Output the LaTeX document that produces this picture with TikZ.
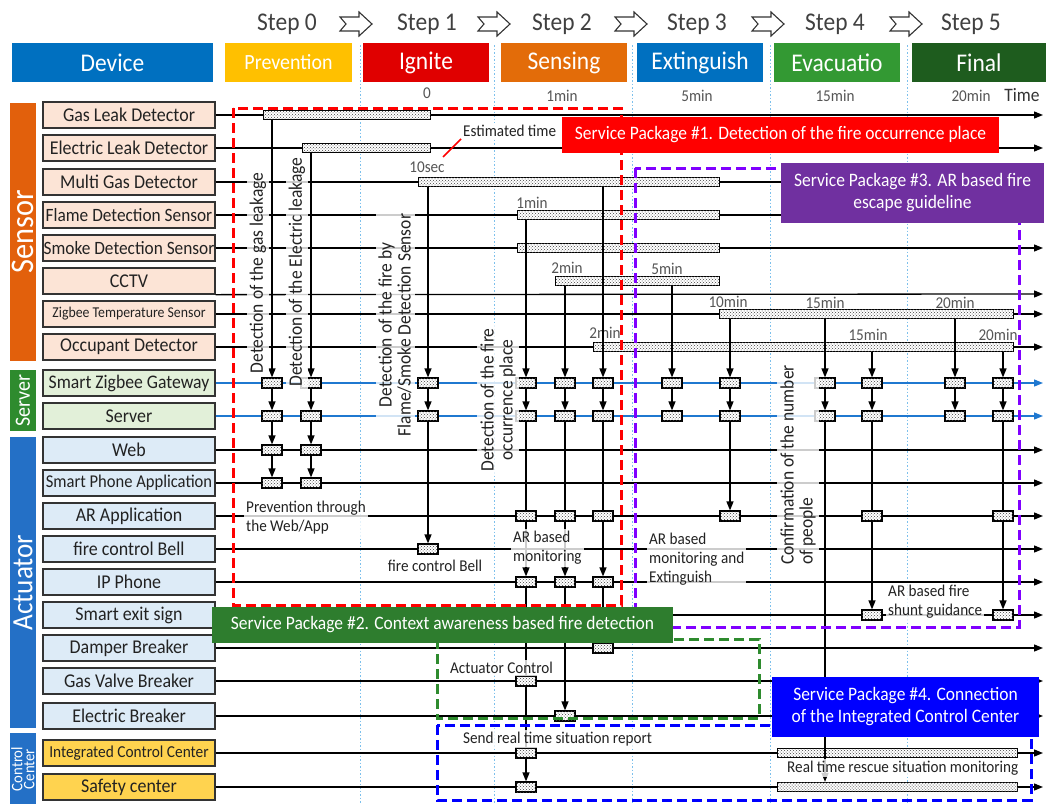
\documentclass[tikz,border=0pt]{standalone}
\usepackage{fontspec}
\setmainfont{Carlito}[FakeStretch=0.92]
\usetikzlibrary{arrows.meta,patterns}
\definecolor{cBlue}{HTML}{0070C0}
\definecolor{cYel}{HTML}{FFC000}
\definecolor{cRed}{HTML}{E00000}
\definecolor{cOra}{HTML}{E36C09}
\definecolor{cGrn}{HTML}{339933}
\definecolor{cDGrn}{HTML}{1E5C1E}
\definecolor{cSensL}{HTML}{FCE4D6}
\definecolor{cSrvL}{HTML}{E2F0D9}
\definecolor{cActL}{HTML}{DDEBF7}
\definecolor{cCtlL}{HTML}{FFD34F}
\definecolor{cLine}{HTML}{1F78D0}
\definecolor{cDot}{HTML}{7CC0EC}
\definecolor{cSP1}{HTML}{FF0000}
\definecolor{cSP2}{HTML}{2E7D2E}
\definecolor{cSP3}{HTML}{7030A0}
\definecolor{cSP4}{HTML}{0000FF}
\definecolor{cViol}{HTML}{8000FF}
\definecolor{cGrnD}{HTML}{2E8B2E}
\definecolor{cTxt}{HTML}{222222}
\definecolor{cTim}{HTML}{555555}
\definecolor{cSideO}{HTML}{E2600C}
\definecolor{cSideG}{HTML}{2E8B2E}
\definecolor{cSideB}{HTML}{2470C6}
\newcommand\fsz[2]{\fontsize{#1}{#2}\selectfont}
\begin{document}
\begin{tikzpicture}[x=1pt,y=-1pt,
  hdr/.style={text=white, minimum height=39pt, inner sep=0pt, font=\fsz{25.5}{28}},
  stp/.style={text=black!75, font=\fsz{25.5}{28}},
  stpar/.style={draw=black!80, line width=1.1pt, fill=white},
  lab/.style={draw=black!80, line width=1.3pt, minimum width=172pt, minimum height=26pt, inner sep=0pt, text=cTxt},
  sens/.style={lab, fill=cSensL},
  srv/.style={lab, fill=cSrvL},
  act/.style={lab, fill=cActL},
  ctl/.style={lab, fill=cCtlL},
  side/.style={minimum width=26pt, inner sep=0pt},
  sidet/.style={rotate=90, text=white},
  rowl/.style={line width=1.3pt, -{Triangle[length=9pt,width=7pt]}},
  arr/.style={line width=1.3pt, -{Triangle[length=9pt,width=7pt]}},
  pl/.style={line width=1.3pt},
  sb/.style={draw=black, line width=1.2pt, fill=white, minimum width=20pt, minimum height=10pt, inner sep=0pt, postaction={pattern=crosshatch dots, pattern color=black!75}},
  bar/.style={draw=black, line width=1.2pt, fill=white, minimum height=9pt, inner sep=0pt, anchor=west, postaction={pattern=crosshatch dots, pattern color=black!75}},
  tim/.style={text=cTim, font=\fsz{16.5}{18}},
  btim/.style={text=cTim, font=\fsz{16.5}{18}},
  vlab/.style={rotate=90, fill=white, fill opacity=0.8, text opacity=1, text=cTxt, font=\fsz{19}{19}, inner sep=3pt, align=center},
  hlab/.style={fill=white, fill opacity=0.8, text opacity=1, text=cTxt, font=\fsz{16.5}{19}, inner sep=2pt, align=left},
  spd/.style={line width=3pt, dash pattern=on 10pt off 5pt},
  spb/.style={text=white, font=\fsz{19}{22}, inner sep=0pt, align=center},
  dotv/.style={cDot, line width=0.9pt, dash pattern=on 1.5pt off 2pt}
]
\fill[white] (0,0) rectangle (1046,803);
\useasboundingbox (0,0) rectangle (1046,803);

% ---- dotted step separators
\foreach \xx in {360,494,632,770,907}{\draw[dotv] (\xx,45) -- (\xx,803);}

% ---- header
\node[hdr, fill=cBlue, minimum width=201pt] (hDev) at (112.5,62.5) {Device};
\node[hdr, fill=cYel, minimum width=127pt, font=\fsz{21.7}{24}] (hPre) at (288.5,62.5) {Prevention};
\node[hdr, fill=cRed, minimum width=126pt] (hIgn) at (426,62.5) {Ignite};
\node[hdr, fill=cOra, minimum width=126pt] (hSen) at (564,62.5) {Sensing};
\node[hdr, fill=cBlue, minimum width=126pt] (hExt) at (700,62.5) {Extinguish};
\node[hdr, fill=cGrn, minimum width=126pt] (hEva) at (837,62.5) {Evacuatio};
\node[hdr, fill=cDGrn, minimum width=134pt] (hFin) at (979,62.5) {Final};

\node[stp] (s0) at (287,24) {Step 0};
\node[stp] (s1) at (427,24) {Step 1};
\node[stp] (s2) at (562,24) {Step 2};
\node[stp] (s3) at (697,24) {Step 3};
\node[stp] (s4) at (835,24) {Step 4};
\node[stp] (s5) at (971,24) {Step 5};
\foreach \xx in {356,494,631,768,906}{
  \draw[stpar] (\xx,24) +(-16,-7) -- +(3,-7) -- +(3,-12) -- +(16,0) -- +(3,12) -- +(3,7) -- +(-16,7) -- +(-10,0) -- cycle;
}

% ---- time labels
\node[tim] (t0) at (427,93) {0};
\node[tim] (t1) at (562,96) {1min};
\node[tim] (t5) at (697,96) {5min};
\node[tim] (t15) at (835,96) {15min};
\node[tim] (t20) at (971,96) {20min};
\node[text=black!80, font=\fsz{19}{22}] (tT) at (1022,95) {Time};

% ---- side groups
\node[side, fill=cSideO, minimum height=258pt] (gSens) at (23,232) {};
\node[sidet, font=\fsz{33}{34}] (tSens) at (gSens) {Sensor};
\node[side, fill=cSideG, minimum height=61pt] (gSrv) at (23,400.5) {};
\node[sidet, font=\fsz{21.7}{22}] (tSrv) at (gSrv) {Server};
\node[side, fill=cSideB, minimum height=291pt] (gAct) at (23,582.5) {};
\node[sidet, font=\fsz{29.5}{30}] (tAct) at (gAct) {Actuator};
\node[side, fill=cSideB, minimum height=72pt] (gCtl) at (23,769) {};
\node[sidet, font=\fsz{16}{12}, align=center] (tCtl) at (gCtl) {Control\\Center};

% ---- device rows
\foreach \nm/\yy/\txt/\fs/\sty in {
  Gas/115/Gas Leak Detector/19.5/sens,
  Elec/148/Electric Leak Detector/19.5/sens,
  Multi/182/Multi Gas Detector/19.5/sens,
  Flame/215/Flame Detection Sensor/18.8/sens,
  Smoke/248/Smoke Detection Sensor/18.8/sens,
  CCTV/281/CCTV/19.5/sens,
  Zig/314/Zigbee Temperature Sensor/15/sens,
  Occ/347/Occupant Detector/19.5/sens,
  Gw/383/Smart Zigbee Gateway/19.2/srv,
  Srv/416/Server/19.5/srv,
  Web/450/Web/19.5/act,
  Phone/483/Smart Phone Application/18/act,
  AR/516/AR Application/19.5/act,
  Bell/549/fire control Bell/19.5/act,
  IP/582/IP Phone/19.5/act,
  Exit/615/Smart exit sign/19.5/act,
  Damp/648/Damper Breaker/19.5/act,
  GasV/681/Gas Valve Breaker/19.5/act,
  EB/716/Electric Breaker/19.5/act,
  ICC/753/Integrated Control Center/16.7/ctl,
  Safe/787/Safety center/19.5/ctl}{
  \node[\sty, font=\fsz{\fs}{\fs}] (r\nm) at (129,\yy) {\txt};
}

% ---- row lines
\foreach \nm/\yy in {Gas/115,Elec/148,Multi/182,Flame/215,Smoke/248,Zig/314,Occ/347,
  Web/450,Phone/483,AR/516,Bell/549,IP/582,Exit/615,Damp/648,GasV/681,EB/716,ICC/753,Safe/787}{
  \coordinate (e\nm) at (1043,\yy);
  \draw[rowl] (r\nm.east) -- (e\nm);
}
\coordinate (eCCTV) at (1043,294);
\draw[rowl] (rCCTV.south east) -- (eCCTV);
\foreach \nm/\yy in {Gw/383,Srv/416}{
  \coordinate (e\nm) at (1043,\yy);
  \draw[rowl, cLine] (r\nm.east) -- (e\nm);
}

% ---- sensor bars
\node[bar, minimum width=167pt] (bGas) at (263,115) {};
\node[bar, minimum width=128pt] (bElec) at (302,148) {};
\node[bar, minimum width=301pt] (bMulti) at (418,182) {};
\node[bar, minimum width=202pt] (bFlame) at (517,215) {};
\node[bar, minimum width=202pt] (bSmoke) at (517,248) {};
\node[bar, minimum width=164pt] (bCCTV) at (555,281) {};
\node[bar, minimum width=294pt] (bZig) at (719,314) {};
\node[bar, minimum width=420pt] (bOcc) at (593,347) {};
\node[bar, minimum width=240pt] (bIcc) at (777,753) {};
\node[bar, minimum width=240pt, postaction={pattern=crosshatch dots, pattern color=black!35}] (bSafe) at (777,787) {};

% ---- bar time labels
\node[btim] (l10s) at (427,167) {10sec};
\node[btim] (l1m) at (532,203) {1min};
\node[btim] (l2m) at (567,268) {2min};
\node[btim] (l5m) at (667,269) {5min};
\node[btim] (l10m) at (728,302) {10min};
\node[btim] (l15m) at (825,303) {15min};
\node[btim] (l20m) at (955,303) {20min};
\node[btim] (l2mb) at (605,333) {2min};
\node[btim] (l15mb) at (868,335) {15min};
\node[btim] (l20mb) at (998,335) {20min};

% ---- column boxes
\foreach \c/\xx in {1/272,2/311,3/428,4/526,5/565,6/603,7/672,8/730,9/825,10/872,11/955,12/1003}{
  \node[sb] (g\c) at (\xx,383) {};
  \node[sb] (s\c) at (\xx,416) {};
}
\node[sb] (w1) at (272,450) {};  \node[sb] (p1) at (272,483) {};
\node[sb] (w2) at (311,450) {};  \node[sb] (p2) at (311,483) {};
\node[sb] (b3) at (428,549) {};
\node[sb] (a4) at (526,516) {};  \node[sb] (i4) at (526,582) {};
\node[sb] (v4) at (526,681) {};  \node[sb] (k4) at (526,753) {};  \node[sb] (f4) at (526,787) {};
\node[sb] (a5) at (565,516) {};  \node[sb] (i5) at (565,582) {};  \node[sb] (e5) at (565,716) {};
\node[sb] (a6) at (603,516) {};  \node[sb] (i6) at (603,582) {};  \node[sb] (d6) at (603,648) {};
\node[sb] (a8) at (730,516) {};
\node[sb] (a10) at (872,516) {}; \node[sb] (x10) at (872,615) {};
\node[sb] (a12) at (1003,516) {}; \node[sb] (x12) at (1003,615) {};

% ---- vertical connectors
\draw[arr] (g1 |- bGas.south) -- (g1);   \draw[arr] (g1) -- (s1); \draw[arr] (s1) -- (w1); \draw[arr] (w1) -- (p1);
\draw[arr] (g2 |- bElec.south) -- (g2);  \draw[arr] (g2) -- (s2); \draw[arr] (s2) -- (w2); \draw[arr] (w2) -- (p2);
\draw[arr] (g3 |- bMulti.south) -- (g3); \draw[arr] (g3) -- (s3); \draw[arr] (s3) -- (b3);
\draw[arr] (g4 |- bFlame.south) -- (g4); \draw[arr] (g4) -- (s4); \draw[pl] (s4) -- (a4); \draw[arr] (a4) -- (i4);
\draw[pl] (i4) -- (v4); \draw[pl] (v4) -- (k4); \draw[arr] (k4) -- (f4);
\draw[arr] (g5 |- bCCTV.south) -- (g5);  \draw[arr] (g5) -- (s5); \draw[pl] (s5) -- (a5); \draw[arr] (a5) -- (i5); \draw[arr] (i5) -- (e5);
\draw[arr] (g6 |- bMulti.south) -- (g6); \draw[arr] (g6) -- (s6); \draw[pl] (s6) -- (a6); \draw[arr] (a6) -- (i6); \draw[pl] (i6) -- (d6);
\draw[arr] (g7 |- bCCTV.south) -- (g7);  \draw[arr] (g7) -- (s7);
\draw[arr] (g8 |- bZig.south) -- (g8);   \draw[arr] (g8) -- (s8); \draw[arr] (s8) -- (a8);
\draw[arr] (g9 |- bZig.south) -- (g9);   \draw[arr] (g9) -- (s9); \draw[arr] (s9) -- (s9 |- bSafe.north);
\draw[arr] (g10 |- bOcc.south) -- (g10); \draw[arr] (g10) -- (s10); \draw[pl] (s10) -- (a10); \draw[arr] (a10) -- (x10);
\draw[arr] (g11 |- bZig.south) -- (g11); \draw[arr] (g11) -- (s11);
\draw[arr] (g12 |- bOcc.south) -- (g12); \draw[arr] (g12) -- (s12); \draw[pl] (s12) -- (a12); \draw[arr] (a12) -- (x12);

% ---- annotation labels
\node[vlab] (vGas) at (258,273) {Detection of the gas leakage};
\node[vlab] (vElec) at (297,272) {Detection of the Electric leakage};
\node[vlab] (vFire) at (395,325) {Detection of the fire by\\Flame/Smoke Detection Sensor};
\node[vlab] (vOcc) at (498,400) {Detection of the fire\\occurrence place};
\node[vlab, align=left] (vConf) at (798,465) {Confirmation of the number\\of people};
\node[hlab, anchor=west] (lPrev) at (244,518) {Prevention through\\the Web/App};
\node[hlab] (lBell) at (435,566) {fire control Bell};
\node[hlab, anchor=west] (lARm) at (511,548) {AR based\\monitoring};
\node[hlab, anchor=west] (lARe) at (647,559) {AR based\\monitoring and\\Extinguish};
\node[hlab, anchor=west] (lShunt) at (886,602) {AR based fire\\shunt guidance};
\node[hlab, anchor=west] (lAct) at (448,668) {Actuator Control};
\node[hlab, anchor=west] (lSend) at (461,739) {Send real time situation report};
\node[hlab, anchor=west] (lReal) at (785,768) {Real time rescue situation monitoring};
\node[hlab, anchor=west, fill opacity=1] (lEst) at (461,131) {Estimated time};
\draw[cSP1, line width=1.5pt] (443,157) -- (lEst.south west);

% ---- service package frames
\draw[spd, cSP1] (233,108) rectangle (621,605);
\draw[spd, cViol] (635,168) rectangle (1019,627);
\draw[spd, cGrnD] (437,639) rectangle (759,718);
\draw[spd, cSP4] (437,725) rectangle (1031,800);

% ---- service package boxes
\node[spb, fill=cSP1, minimum width=437pt, minimum height=36pt] (sp1) at (780.5,135) {Service Package \#1. Detection of the fire occurrence place};
\node[spb, fill=cSP3, minimum width=263pt, minimum height=60pt] (sp3) at (912.5,193) {Service Package \#3. AR based fire\\escape guideline};
\node[spb, fill=cSP2, minimum width=461pt, minimum height=36pt] (sp2) at (442.5,625) {Service Package \#2. Context awareness based fire detection};
\node[spb, fill=cSP4, minimum width=267pt, minimum height=60pt] (sp4) at (905.5,707) {Service Package \#4. Connection\\of the Integrated Control Center};
\end{tikzpicture}
\end{document}
